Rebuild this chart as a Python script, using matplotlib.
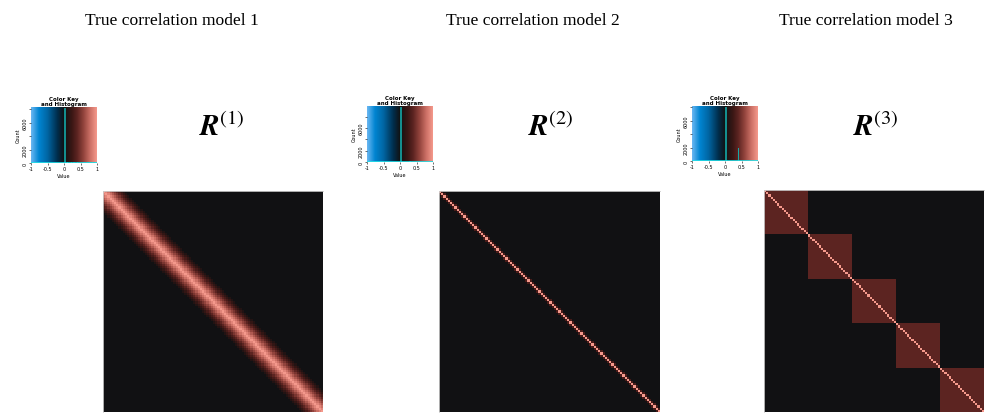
import numpy as np
import matplotlib
matplotlib.use("Agg")
import matplotlib.pyplot as plt
from matplotlib.colors import LinearSegmentedColormap

plt.rcParams["mathtext.fontset"] = "stix"

# ---- data ----
n_vars = 100
titles = ["True correlation model 1", "True correlation model 2", "True correlation model 3"]
labels = [r"$\boldsymbol{R}^{(1)}$", r"$\boldsymbol{R}^{(2)}$", r"$\boldsymbol{R}^{(3)}$"]
# correlation by diagonal offset |i-j| (model 1 and 2)
band_model1 = [1.0, 0.9, 0.8, 0.7, 0.6, 0.5, 0.4, 0.3, 0.2, 0.1]
band_model2 = [1.0, 0.3]
# model 3: block structure
block_sizes_model3 = [20, 20, 20, 20, 20]
block_corr_model3 = 0.4

key_ticks = [-1, -0.5, 0, 0.5, 1]
key_ticklabels = ["-1", "-0.5", "0", "0.5", "1"]
count_ticks = [0, 2000, 4000, 6000, 8000]
count_ticklabels = ["0", "2000", "", "6000", ""]


def band_matrix(band, n):
    idx = np.arange(n)
    d = np.abs(idx[:, None] - idx[None, :])
    m = np.zeros((n, n))
    for k, v in enumerate(band):
        m[d == k] = v
    return m


def block_matrix(sizes, rho):
    n = sum(sizes)
    m = np.zeros((n, n))
    s = 0
    for b in sizes:
        m[s:s + b, s:s + b] = rho
        s += b
    np.fill_diagonal(m, 1.0)
    return m


mats = [band_matrix(band_model1, n_vars), band_matrix(band_model2, n_vars),
        block_matrix(block_sizes_model3, block_corr_model3)]

cmap = LinearSegmentedColormap.from_list("key", [
    (0.0, (0.42, 0.72, 0.95)),
    (0.12, (0.0, 0.52, 0.82)),
    (0.25, (0.0, 0.40, 0.64)),
    (0.40, (0.0, 0.18, 0.30)),
    (0.5, (0.067, 0.07, 0.075)),
    (0.62, (0.23, 0.09, 0.08)),
    (0.70, (0.36, 0.14, 0.13)),
    (0.80, (0.58, 0.27, 0.24)),
    (0.90, (0.80, 0.44, 0.40)),
    (1.0, (0.96, 0.60, 0.55)),
])

W, H = 999, 414
fig = plt.figure(figsize=(W / 100, H / 100), dpi=100)


def add_ax(x0, y0, x1, y1):
    return fig.add_axes([x0 / W, 1 - y1 / H, (x1 - x0) / W, (y1 - y0) / H])


title_x = [172, 533, 866]
label_x = [222, 551, 876]
key_boxes = [(31, 108, 97, 164), (367, 107, 433, 163), (692, 107, 758, 162)]
mat_boxes = [(103, 192, 323, 413), (439, 192, 660, 413), (764, 191, 984, 413)]

bins = np.linspace(-1, 1, 101)

for i in range(3):
    fig.text(title_x[i] / W, 1 - 21 / H, titles[i], ha="center", va="center",
             family="Liberation Serif", fontsize=12.6)
    fig.text(label_x[i] / W, 1 - 128 / H, labels[i], ha="center", va="center",
             fontsize=21)

    # colour key with histogram
    ax = add_ax(*key_boxes[i])
    grad = np.linspace(-1, 1, 256)[None, :]
    counts, edges = np.histogram(mats[i].ravel(), bins=bins)
    ymax = counts.max() * 1.02
    ax.imshow(grad, cmap=cmap, vmin=-1, vmax=1, aspect="auto",
              extent=[-1, 1, 0, ymax], interpolation="bilinear")
    ax.step(edges, np.r_[counts, counts[-1]], where="post", color="#14a8a8", lw=0.6)
    ax.axhline(0, color="#22e0e8", lw=1.2)
    ax.set_xlim(-1, 1)
    ax.set_ylim(0, ymax)
    ax.set_xticks(key_ticks)
    ax.set_xticklabels(key_ticklabels, fontsize=3.5)
    ax.set_yticks(count_ticks)
    ax.set_yticklabels(count_ticklabels, fontsize=3.5, rotation=90, va="center")
    ax.tick_params(length=1.5, width=0.4, pad=1)
    for s in ax.spines.values():
        s.set_visible(False)
    ax.set_xlabel("Value", fontsize=3.5, labelpad=1)
    ax.set_ylabel("Count", fontsize=3.5, labelpad=1)
    ax.set_title("Color Key\nand Histogram", fontsize=4, fontweight="bold",
                 pad=1.5, linespacing=0.9)

    # correlation heatmap
    axm = add_ax(*mat_boxes[i])
    axm.imshow(mats[i], cmap=cmap, vmin=-1, vmax=1, aspect="auto",
               interpolation="nearest")
    axm.set_xticks([])
    axm.set_yticks([])
    for s in axm.spines.values():
        s.set_color("#cccccc")
        s.set_linewidth(0.6)
    axm.spines["bottom"].set_visible(False)
    axm.spines["right"].set_visible(False)

fig.savefig("out.png", dpi=100)
